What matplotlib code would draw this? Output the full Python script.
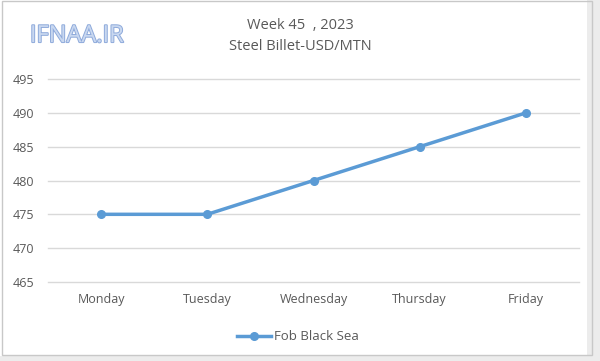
import matplotlib.pyplot as plt
from matplotlib.patches import Rectangle
import matplotlib.patheffects as pe

days = ["Monday", "Tuesday", "Wednesday", "Thursday", "Friday"]
prices = [475, 475, 480, 485, 490]
series_name = "Fob Black Sea"
yticks = [465, 470, 475, 480, 485, 490, 495]

plt.rcParams.update({"font.family": ["Open Sans", "DejaVu Sans"]})
txt = "#595959"

fig = plt.figure(figsize=(6.0, 3.61), dpi=100)
ax = fig.add_axes([0.08, 0.219, 0.885, 0.562])

x = range(len(days))
ax.plot(x, prices, color="#5b9bd5", lw=2.5, marker="o", ms=5.5, label=series_name)

ax.set_xlim(-0.5, len(days) - 0.5)
ax.set_ylim(465, 495)
ax.set_yticks(yticks)
ax.set_xticks(list(x))
ax.set_xticklabels(days)
ax.grid(axis="y", color="#d9d9d9", lw=1)
ax.set_axisbelow(True)
for s in ax.spines.values():
    s.set_visible(False)
for gl in ax.get_ygridlines():
    gl.set_clip_on(False)
ax.tick_params(length=0, colors=txt, labelsize=9)
ax.tick_params(axis="y", pad=10)
ax.tick_params(axis="x", pad=8)

fig.text(0.5, 0.928, "Week 45  , 2023", ha="center", va="center", fontsize=10.5, color=txt)
fig.text(0.5, 0.870, "Steel Billet-USD/MTN", ha="center", va="center", fontsize=10.5, color=txt)

fig.text(0.128, 0.9, "IFNAA.IR", ha="center", va="center", fontsize=17, color="#c9d8f0",
         path_effects=[pe.withStroke(linewidth=1.4, foreground="#8eaadb")])

ax.legend(loc="center", bbox_to_anchor=(0.47, -0.27), frameon=False,
          fontsize=9.5, labelcolor=txt, handlelength=2.6, handletextpad=0.2)

fig.patches.append(Rectangle((0.979, 0.0), 0.021, 1.0, transform=fig.transFigure,
                             fill=True, fc="#ececec", ec="none"))
fig.patches.append(Rectangle((0.0, 0.0), 1.0, 0.014, transform=fig.transFigure,
                             fill=True, fc="#ececec", ec="none"))
fig.patches.append(Rectangle((0.004, 0.016), 0.983, 0.98, transform=fig.transFigure,
                             fill=False, ec="#c8c8c8", lw=1))

fig.savefig("out.png", dpi=100, facecolor="white")
